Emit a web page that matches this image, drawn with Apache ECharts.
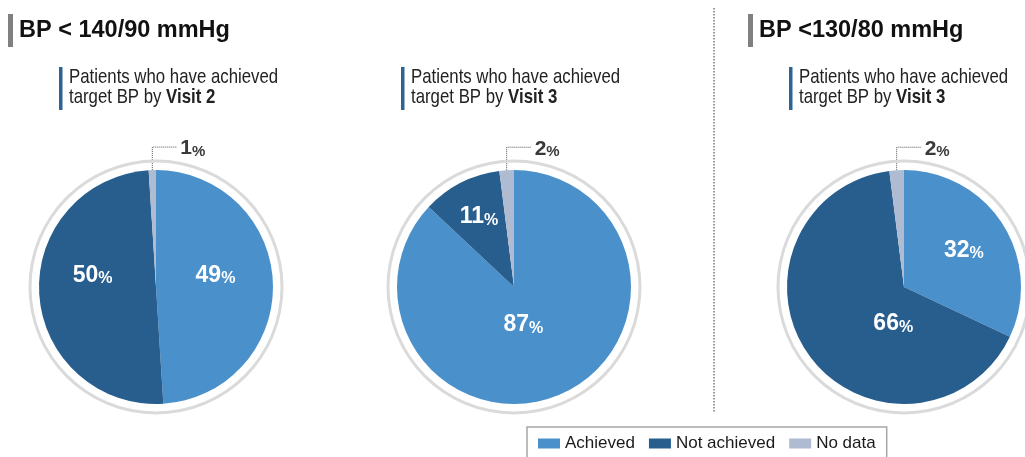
<!DOCTYPE html>
<html><head><meta charset="utf-8">
<script src="https://cdn.jsdelivr.net/npm/echarts@6/dist/echarts.min.js"></script>
<style>html,body{margin:0;padding:0;background:#fff}#c{width:1025px;height:457px}</style>
</head><body><div id="c"></div>
<script>
// ---- data ----
const categories = ['Achieved', 'Not achieved', 'No data'];
const groupTitles = ['BP < 140/90 mmHg', 'BP <130/80 mmHg'];
const subtitleVisits = ['Visit 2', 'Visit 3', 'Visit 3'];
const bp140Visit2 = [49, 50, 1];
const bp140Visit3 = [87, 11, 2];
const bp130Visit3 = [32, 66, 2];

// ---- style / layout ----
const SANS = '"Liberation Sans",Arial,sans-serif';
const colors = ['#4a90cb', '#285e8d', '#aebbd0'];
const R = 117;
const pies = [
  { values: bp140Visit2, center: [156, 287], offsets: [[-2, -11], [-2, -17]], sub: 69, bar: 59 },
  { values: bp140Visit3, center: [514, 287], offsets: [[-15, -20], [-7, -17]], sub: 411, bar: 401 },
  { values: bp130Visit3, center: [904, 287], offsets: [[8, -5], [39, -1]], sub: 799, bar: 789 }
];

function pieSeries(p, idx) {
  return {
    type: 'pie', name: 'pie' + idx, center: p.center, radius: [0, R],
    startAngle: 90, clockwise: true, silent: true, animation: false,
    itemStyle: { borderWidth: 0 },
    label: {
      show: true, position: 'inside',
      formatter: q => '{v|' + q.value + '}{p|%}',
      rich: {
        v: { fontSize: 23, fontWeight: 'bold', color: '#fff', fontFamily: SANS, lineHeight: 26, verticalAlign: 'bottom' },
        p: { fontSize: 16, fontWeight: 'bold', color: '#fff', fontFamily: SANS, lineHeight: 21, verticalAlign: 'bottom' }
      }
    },
    labelLine: { show: false },
    labelLayout: function (params) {
      if (params.dataIndex !== 2) return {};
      let x0, y0;
      const pts = params.labelLinePoints;
      if (pts && pts.length) { x0 = pts[0][0]; y0 = pts[0][1]; }
      else { x0 = p.center[0] - 5; y0 = p.center[1] - R; }
      const top = y0 - 23, right = x0 + 25;
      return {
        x: right + 3, y: top, align: 'left', verticalAlign: 'middle',
        labelLinePoints: [[x0, y0 + 8], [x0, top], [right, top]]
      };
    },
    data: p.values.map((v, i) => {
      const item = { name: categories[i], value: v, itemStyle: { color: colors[i] } };
      if (i === 2) {
        item.label = {
          position: 'outside',
          rich: {
            v: { fontSize: 21, fontWeight: 'bold', color: '#3a3a3a', fontFamily: SANS, lineHeight: 24, verticalAlign: 'bottom' },
            p: { fontSize: 15, fontWeight: 'bold', color: '#3a3a3a', fontFamily: SANS, lineHeight: 20, verticalAlign: 'bottom' }
          }
        };
        item.labelLine = { show: true, length: 20, length2: 20, lineStyle: { type: 'dotted', color: '#555', width: 1 } };
      } else {
        item.label = { offset: p.offsets[i] };
      }
      return item;
    })
  };
}

function ringSeries(p) {
  return {
    type: 'pie', center: p.center, radius: [124.5, 127.5], silent: true, animation: false,
    label: { show: false }, labelLine: { show: false }, emphasis: { disabled: true },
    data: [{ name: 'ring', value: 1, itemStyle: { color: '#dadada' } }]
  };
}

const graphics = [];
// group titles
[[8, 19], [748, 759]].forEach((g, i) => {
  graphics.push({ type: 'rect', shape: { x: g[0], y: 14, width: 5, height: 33 }, style: { fill: '#808080' } });
  graphics.push({ type: 'text', style: { x: g[1], y: 31, text: groupTitles[i], fontSize: 23.5, fontWeight: 'bold', fontFamily: SANS, fill: '#111', verticalAlign: 'middle' } });
});
// subtitles (narrow type emulated by horizontal scaling)
pies.forEach((p, i) => {
  graphics.push({ type: 'rect', shape: { x: p.bar, y: 67, width: 3.5, height: 43 }, style: { fill: '#2e6396' } });
  graphics.push({ type: 'text', x: p.sub, y: 67, scaleX: 0.8, scaleY: 1, style: {
    x: 0, y: 0, text: 'Patients who have achieved\ntarget BP by {b|' + subtitleVisits[i] + '}',
    fontSize: 21, fontFamily: SANS, fill: '#222', lineHeight: 20, verticalAlign: 'top',
    rich: { b: { fontSize: 21, fontFamily: SANS, fontWeight: 'bold', fill: '#222', lineHeight: 20 } }
  } });
});
// divider
graphics.push({ type: 'line', shape: { x1: 714, y1: 8, x2: 714, y2: 413 }, style: { stroke: '#777', lineWidth: 1.5, lineDash: [1.5, 1.5] } });

const chart = echarts.init(document.getElementById('c'), null, { renderer: 'canvas' });
chart.setOption({
  backgroundColor: '#fff',
  animation: false,
  legend: {
    data: categories, left: 527, top: 427, orient: 'horizontal',
    icon: 'rect', itemWidth: 22, itemHeight: 10, itemGap: 14,
    padding: [8, 11, 20, 11], borderColor: '#a6a6a6', borderWidth: 1.5,
    textStyle: { fontSize: 17, fontFamily: SANS, color: '#1a1a1a' },
    selectedMode: false
  },
  graphic: graphics,
  series: pies.map(ringSeries).concat(pies.map(pieSeries))
});
</script></body></html>
